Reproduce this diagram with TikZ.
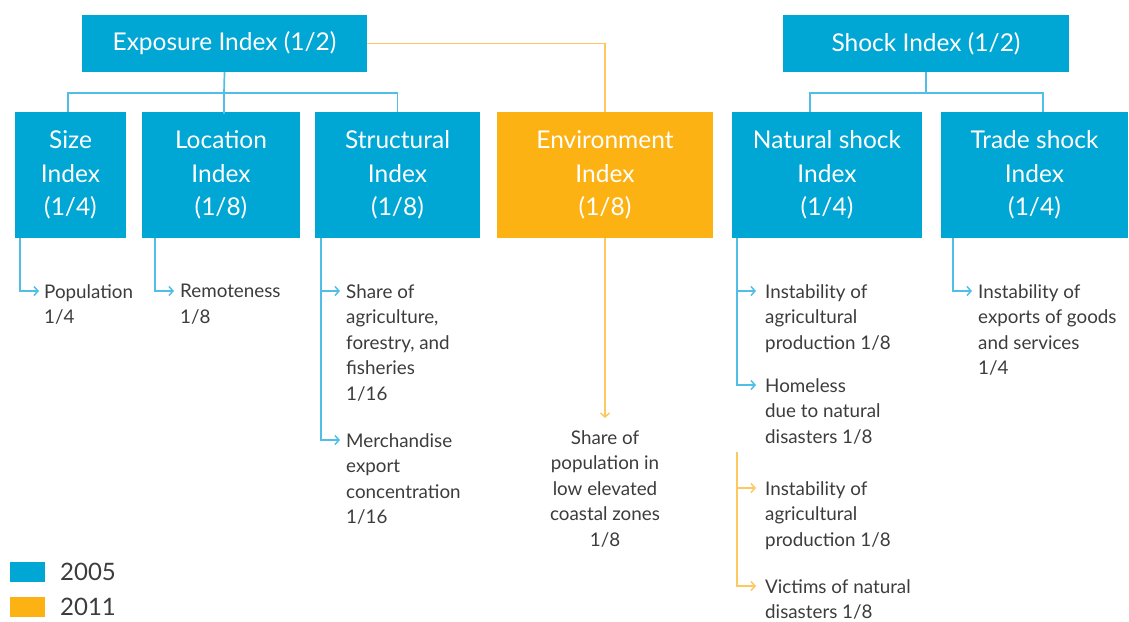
\documentclass[tikz,border=0pt]{standalone}
\usepackage{fontspec}
\setmainfont{Lato}
\usetikzlibrary{arrows.meta,calc}
\definecolor{boxblue}{RGB}{0,166,212}
\definecolor{boxorange}{RGB}{253,178,20}
\definecolor{lineblue}{RGB}{80,190,230}
\definecolor{lineorange}{RGB}{253,200,95}
\definecolor{txt}{RGB}{60,60,60}
\tikzset{
  x=1pt,y=-1pt,
  bbox/.style={fill=boxblue,draw=none,text=white,align=center,inner sep=0,
    font=\fontsize{24.5}{33.5}\selectfont},
  obox/.style={bbox,fill=boxorange},
  bline/.style={draw=lineblue,line width=1.7pt},
  oline/.style={draw=lineorange,line width=1.7pt},
  tip/.style={-{Straight Barb[length=4pt,width=9pt,line width=1.5pt]}},
  item/.style={anchor=north west,align=left,inner sep=0,text=txt,
    font=\fontsize{18.8}{25.5}\selectfont},
  citem/.style={item,anchor=north,align=center},
  leg/.style={anchor=west,inner sep=0,text=txt,font=\fontsize{24}{28}\selectfont}
}
\begin{document}
\begin{tikzpicture}
\useasboundingbox (0,0) rectangle (1129,621);
% top boxes
\node[bbox,minimum width=285,minimum height=57] (expo) at (224.5,43.5) {Exposure Index (1/2)};
\node[bbox,minimum width=286,minimum height=57] (shock) at (926,43.5) {Shock Index (1/2)};
% second row
\node[bbox,minimum width=111,minimum height=126] (size) at (70.5,175) {Size\\Index\\(1/4)};
\node[bbox,minimum width=158,minimum height=126] (loc) at (221,175) {Location\\Index\\(1/8)};
\node[bbox,minimum width=165,minimum height=126] (struct) at (397.5,175) {Structural\\Index\\(1/8)};
\node[obox,minimum width=216,minimum height=126] (env) at (605,175) {Environment\\Index\\(1/8)};
\node[bbox,minimum width=190,minimum height=126] (nat) at (827,175) {Natural shock\\Index\\(1/4)};
\node[bbox,minimum width=187,minimum height=126] (trade) at (1034.5,175) {Trade shock\\Index\\(1/4)};
% top connectors
\coordinate (eb) at (224,93);
\coordinate (sb) at (926,93);
\draw[bline] (expo.south) -- (eb);
\draw[bline] (68,112) |- (eb) -| (397.5,112);
\draw[bline] (loc.north -| eb) ++(0,2) -- (eb);
\draw[bline] (shock.south) -- (sb);
\draw[bline] (810,112) |- (sb) -| (1043,112);
\draw[oline] (expo.east) -| (605,112);
% environment
\coordinate (ea) at (605,418);
\draw[oline,tip] (605,238) -- (ea);
\node[citem] (envt) at (605,430) {Share of\\population in\\low elevated\\coastal zones\\1/8};
% size
\coordinate (s1) at (39,291);
\draw[bline,tip] (20,238) |- (s1);
\node[item] (st1) at (44,284) {Population\\1/4};
% location
\coordinate (l1) at (174,291);
\draw[bline,tip] (155,238) |- (l1);
\node[item] (lt1) at (180,284) {Remoteness\\1/8};
% structural
\coordinate (r1) at (340,291);
\coordinate (r2) at (340,440);
\draw[bline,tip] (321,238) |- (r1);
\draw[bline,tip] (321,238) |- (r2);
\node[item] (rt1) at (346,284) {Share of\\agriculture,\\forestry, and\\fisheries\\1/16};
\node[item] (rt2) at (346,433) {Merchandise\\export\\concentration\\1/16};
% natural
\coordinate (n1) at (756,291);
\coordinate (n2) at (756,385);
\coordinate (n0) at (737,452);
\coordinate (n3) at (756,488);
\coordinate (n4) at (756,586);
\draw[bline,tip] (737,238) |- (n1);
\draw[bline,tip] (737,238) |- (n2);
\draw[oline,tip] (n0) |- (n3);
\draw[oline,tip] (n0) |- (n4);
\node[item] (nt1) at (765,284) {Instability of\\agricultural\\production 1/8};
\node[item] (nt2) at (765,378) {Homeless\\due to natural\\disasters 1/8};
\node[item] (nt3) at (765,481) {Instability of\\agricultural\\production 1/8};
\node[item] (nt4) at (765,579) {Victims of natural\\disasters 1/8};
% trade
\coordinate (t1) at (972,291);
\draw[bline,tip] (953,238) |- (t1);
\node[item] (tt1) at (978,284) {Instability of\\exports of goods\\and services\\1/4};
% legend
\node[fill=boxblue,minimum width=35,minimum height=20,inner sep=0] (lb) at (27.5,572) {};
\node[fill=boxorange,minimum width=35,minimum height=20,inner sep=0] (lo) at (27.5,607) {};
\node[leg] (lbt) at (60,572) {2005};
\node[leg] (lot) at (60,607) {2011};
\end{tikzpicture}
\end{document}
